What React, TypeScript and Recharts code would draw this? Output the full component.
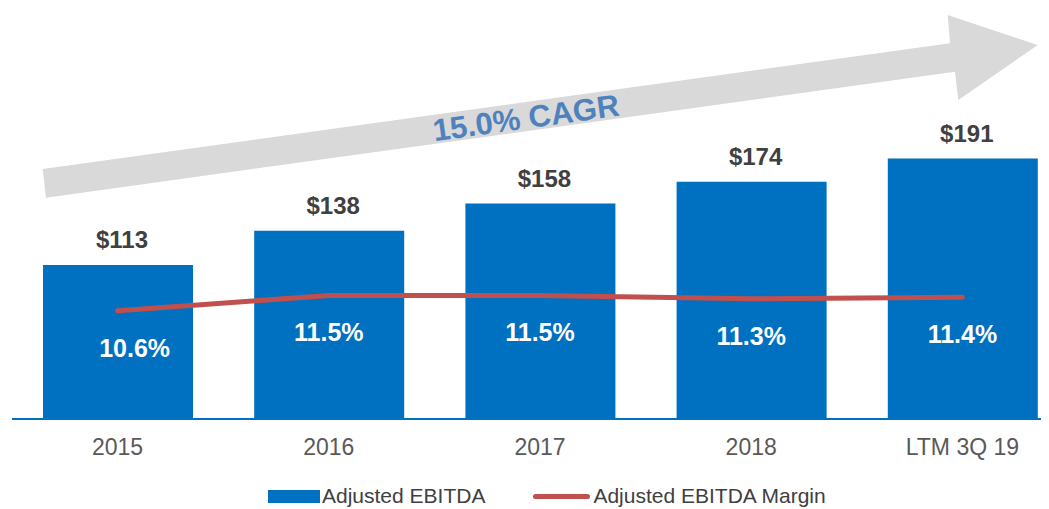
import React from 'react';
import { ComposedChart, Bar, Line, XAxis, YAxis, Legend, LabelList, Customized } from 'recharts';

const categories = ['2015', '2016', '2017', '2018', 'LTM 3Q 19'];
const ebitdaValues = [113, 138, 158, 174, 191];
const marginValues = [10.6, 11.5, 11.5, 11.3, 11.4];
const cagrLabel = '15.0% CAGR';
const seriesNames = ['Adjusted EBITDA', 'Adjusted EBITDA Margin'];

const data = categories.map((c, i) => ({ name: c, ebitda: ebitdaValues[i], margin: marginValues[i] }));

const FONT = '"Liberation Sans", Arial, Helvetica, sans-serif';
const BLUE = '#0070C0';
const RED = '#C0504D';

const CagrArrow = () => {
  // decorative growth arrow (svg coords, chart origin at page 8,8)
  const pts = [
    [42.7, 169], [950, 43.3], [947.7, 15], [1037.7, 45], [958.3, 100], [955, 71.7], [46, 197.7],
  ].map(([x, y]) => `${x - 8},${y - 8}`).join(' ');
  return (
    <g>
      <polygon points={pts} fill="#D9D9D9" />
      <text
        x={526 - 8}
        y={118 - 8}
        transform={`rotate(-7.9 ${526 - 8} ${118 - 8})`}
        textAnchor="middle"
        dominantBaseline="central"
        fontFamily={FONT}
        fontWeight="bold"
        fontSize={31}
        fill="#4F81BD"
      >
        {cagrLabel}
      </text>
    </g>
  );
};

const BarValueLabel = (props: any) => {
  const { x, y, width, value } = props;
  return (
    <text x={x + width / 2 + 4} y={y - 17} textAnchor="middle" fontFamily={FONT} fontWeight="bold" fontSize={24} fill="#404040">
      {`$${value}`}
    </text>
  );
};

const MarginLabel = (props: any) => {
  const { x, y, value, index } = props;
  const shift = index === 0 ? 17 : 0;
  return (
    <text x={x + shift} y={y + 46} textAnchor="middle" fontFamily={FONT} fontWeight="bold" fontSize={25} fill="#FFFFFF">
      {`${Number(value).toFixed(1)}%`}
    </text>
  );
};

const LegendContent = () => (
  <div style={{ position: 'relative', top: 7, display: 'flex', alignItems: 'center', height: 30, marginLeft: 260, fontFamily: FONT, fontSize: 21, color: '#404040' }}>
    <span style={{ display: 'inline-block', width: 52, height: 13, background: BLUE, marginRight: 2 }} />
    <span>{seriesNames[0]}</span>
    <span style={{ display: 'inline-block', width: 57, height: 5, background: RED, borderRadius: 3, marginLeft: 48, marginRight: 3 }} />
    <span>{seriesNames[1]}</span>
  </div>
);

export default function App() {
  return (
    <div style={{ width: 1041, height: 501, overflow: 'hidden', fontFamily: FONT }}>
      <ComposedChart width={1066} height={501} data={data} margin={{ top: 2, right: 6, left: 4, bottom: 5 }}>
        <Customized component={CagrArrow} />
        <XAxis
          dataKey="name"
          interval={0}
          tickLine={false}
          tickSize={0}
          tickMargin={20}
          axisLine={{ stroke: BLUE, strokeWidth: 2 }}
          tick={{ fill: '#595959', fontSize: 23, fontFamily: FONT }}
          height={55}
        />
        <YAxis yAxisId="left" hide domain={[0, 300]} />
        <YAxis yAxisId="right" orientation="right" hide domain={[4.27, 28.2]} />
        <Legend verticalAlign="bottom" content={<LegendContent />} wrapperStyle={{ left: 0, width: 1066 }} />
        <Bar yAxisId="left" dataKey="ebitda" name={seriesNames[0]} fill={BLUE} barSize={150} isAnimationActive={false}>
          <LabelList dataKey="ebitda" content={<BarValueLabel />} />
        </Bar>
        <Line
          yAxisId="right"
          type="linear"
          dataKey="margin"
          name={seriesNames[1]}
          stroke={RED}
          strokeWidth={5}
          strokeLinecap="round"
          dot={false}
          activeDot={false}
          isAnimationActive={false}
        >
          <LabelList dataKey="margin" content={<MarginLabel />} />
        </Line>
      </ComposedChart>
    </div>
  );
}
